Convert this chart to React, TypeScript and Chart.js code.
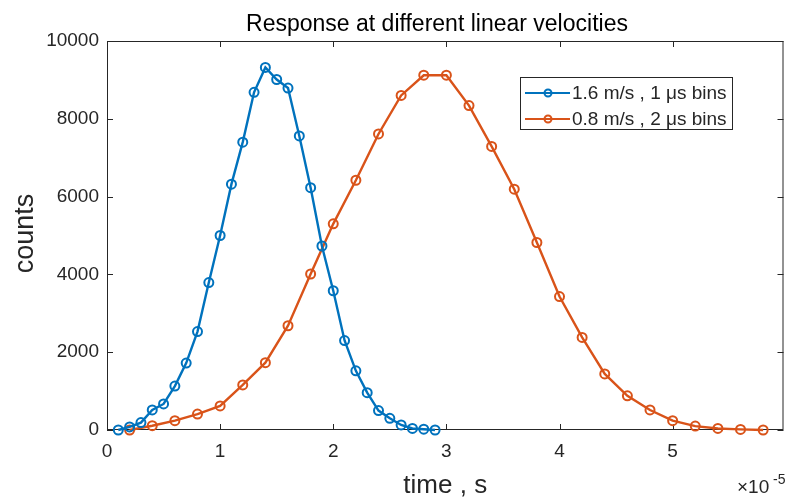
import React, { useEffect, useRef } from "react";
import { Chart, registerables } from "chart.js";

Chart.register(...registerables);

// time in microseconds (axis shown in units of 1e-5 s)
const timeBlueUs = [1, 2, 3, 4, 5, 6, 7, 8, 9, 10, 11, 12, 13, 14, 15, 16, 17, 18, 19, 20, 21, 22, 23, 24, 25, 26, 27, 28, 29];
const countsBlue = [0, 80, 190, 515, 670, 1130, 1720, 2530, 3790, 5000, 6320, 7400, 8680, 9320, 9010, 8790, 7560, 6230, 4730, 3580, 2300, 1520, 960, 500, 300, 130, 40, 20, 0];

const timeOrangeUs = [2, 4, 6, 8, 10, 12, 14, 16, 18, 20, 22, 24, 26, 28, 30, 32, 34, 36, 38, 40, 42, 44, 46, 48, 50, 52, 54, 56, 58];
const countsOrange = [0, 110, 240, 410, 620, 1160, 1730, 2680, 4010, 5300, 6420, 7610, 8600, 9120, 9120, 8340, 7290, 6190, 4820, 3430, 2380, 1440, 880, 515, 240, 100, 40, 15, 0];

const seriesLabels = ["1.6 m/s , 1 μs bins", "0.8 m/s , 2 μs bins"];
const titleText = "Response at different linear velocities";
const xTitle = "time , s";
const yTitle = "counts";
const xExponent = "-5";

const BLUE = "#0072BD";
const ORANGE = "#D95319";
const AXIS = "#262626";
const FONT = "'Liberation Sans', Arial, Helvetica, sans-serif";

const decorPlugin = {
  id: "matlabDecor",
  beforeDatasetsDraw(chart: any) {
    const { ctx, chartArea } = chart;
    const { left, right, top, bottom } = chartArea;
    ctx.save();
    ctx.strokeStyle = AXIS;
    ctx.lineWidth = 1;
    ctx.strokeRect(left + 0.5, top + 0.5, right - left - 1, bottom - top - 1);
    const tl = 6;
    const xs = chart.scales.x;
    const ys = chart.scales.y;
    ctx.beginPath();
    xs.ticks.forEach((t: any) => {
      const px = Math.round(xs.getPixelForValue(t.value)) + 0.5;
      ctx.moveTo(px, bottom);
      ctx.lineTo(px, bottom - tl);
      ctx.moveTo(px, top);
      ctx.lineTo(px, top + tl);
    });
    ys.ticks.forEach((t: any) => {
      const py = Math.round(ys.getPixelForValue(t.value)) + 0.5;
      ctx.moveTo(left, py);
      ctx.lineTo(left + tl, py);
      ctx.moveTo(right, py);
      ctx.lineTo(right - tl, py);
    });
    ctx.stroke();
    ctx.restore();
  },
  afterDraw(chart: any) {
    const { ctx, chartArea } = chart;
    ctx.save();
    // title
    ctx.fillStyle = "#000";
    ctx.font = `23px ${FONT}`;
    ctx.textAlign = "center";
    ctx.textBaseline = "alphabetic";
    ctx.fillText(titleText, 437, 31);
    // x title
    ctx.fillStyle = AXIS;
    ctx.font = `26px ${FONT}`;
    ctx.fillText(xTitle, (chartArea.left + chartArea.right) / 2, 493);
    // y title
    ctx.save();
    ctx.translate(33, (chartArea.top + chartArea.bottom) / 2 - 2);
    ctx.rotate(-Math.PI / 2);
    ctx.font = `27px ${FONT}`;
    ctx.fillText(yTitle, 0, 0);
    ctx.restore();
    // exponent
    ctx.textAlign = "left";
    ctx.font = `19px ${FONT}`;
    ctx.fillText("×10", 737, 493);
    ctx.font = `14px ${FONT}`;
    ctx.fillText(xExponent, 773, 484);
    // legend
    const lx = 520, ly = 77, lw = 212, lh = 52;
    ctx.fillStyle = "#fff";
    ctx.fillRect(lx, ly, lw, lh);
    ctx.strokeStyle = AXIS;
    ctx.lineWidth = 1;
    ctx.strokeRect(lx + 0.5, ly + 0.5, lw, lh);
    const rows = [93, 119];
    chart.data.datasets.forEach((ds: any, i: number) => {
      const y = rows[i];
      ctx.strokeStyle = ds.borderColor;
      ctx.lineWidth = 2;
      ctx.beginPath();
      ctx.moveTo(525, y);
      ctx.lineTo(570, y);
      ctx.stroke();
      ctx.beginPath();
      ctx.arc(548, y, 3.5, 0, Math.PI * 2);
      ctx.stroke();
      ctx.fillStyle = AXIS;
      ctx.font = `19px ${FONT}`;
      ctx.textBaseline = "middle";
      ctx.fillText(ds.label, 572, y + 1);
    });
    ctx.restore();
  },
};

export default function App() {
  const ref = useRef<HTMLCanvasElement | null>(null);
  useEffect(() => {
    if (!ref.current) return;
    const chart = new Chart(ref.current, {
      type: "line",
      data: {
        datasets: [
          {
            label: seriesLabels[0],
            data: timeBlueUs.map((t, i) => ({ x: t, y: countsBlue[i] })),
            borderColor: BLUE,
            backgroundColor: "rgba(0,0,0,0)",
            borderWidth: 2.4,
            pointRadius: 4.5,
            pointBorderWidth: 2,
            pointBorderColor: BLUE,
            pointBackgroundColor: "rgba(0,0,0,0)",
            tension: 0,
            clip: false,
          },
          {
            label: seriesLabels[1],
            data: timeOrangeUs.map((t, i) => ({ x: t, y: countsOrange[i] })),
            borderColor: ORANGE,
            backgroundColor: "rgba(0,0,0,0)",
            borderWidth: 2.4,
            pointRadius: 4.5,
            pointBorderWidth: 2,
            pointBorderColor: ORANGE,
            pointBackgroundColor: "rgba(0,0,0,0)",
            tension: 0,
            clip: false,
          },
        ],
      },
      options: {
        responsive: false,
        animation: false,
        maintainAspectRatio: false,
        layout: { padding: { left: 0, right: 2, top: 41, bottom: 0 } },
        plugins: {
          legend: { display: false },
          title: { display: false },
          tooltip: { enabled: false },
        },
        scales: {
          x: {
            type: "linear",
            min: 0,
            max: 59.8,
            grid: { display: false, drawTicks: false, tickLength: 0 },
            border: { display: false },
            ticks: {
              stepSize: 10,
              includeBounds: false,
              padding: 10,
              color: AXIS,
              font: { family: FONT, size: 19 },
              maxRotation: 0,
              callback: (v: any) => String(Math.round(Number(v) / 10)),
            },
            afterFit: (s: any) => {
              s.height = 67;
            },
          },
          y: {
            type: "linear",
            min: 0,
            max: 10000,
            grid: { display: false, drawTicks: false, tickLength: 0 },
            border: { display: false },
            ticks: {
              stepSize: 2000,
              padding: 8,
              color: AXIS,
              font: { family: FONT, size: 19 },
              callback: (v: any) => String(v),
            },
            afterFit: (s: any) => {
              s.width = 107;
            },
          },
        },
      },
      plugins: [decorPlugin],
    });
    return () => chart.destroy();
  }, []);
  return (
    <div style={{ position: "absolute", left: 0, top: 0, width: 790, height: 497, background: "#fff" }}>
      <canvas ref={ref} width={790} height={497} style={{ display: "block", width: 790, height: 497 }} />
    </div>
  );
}
